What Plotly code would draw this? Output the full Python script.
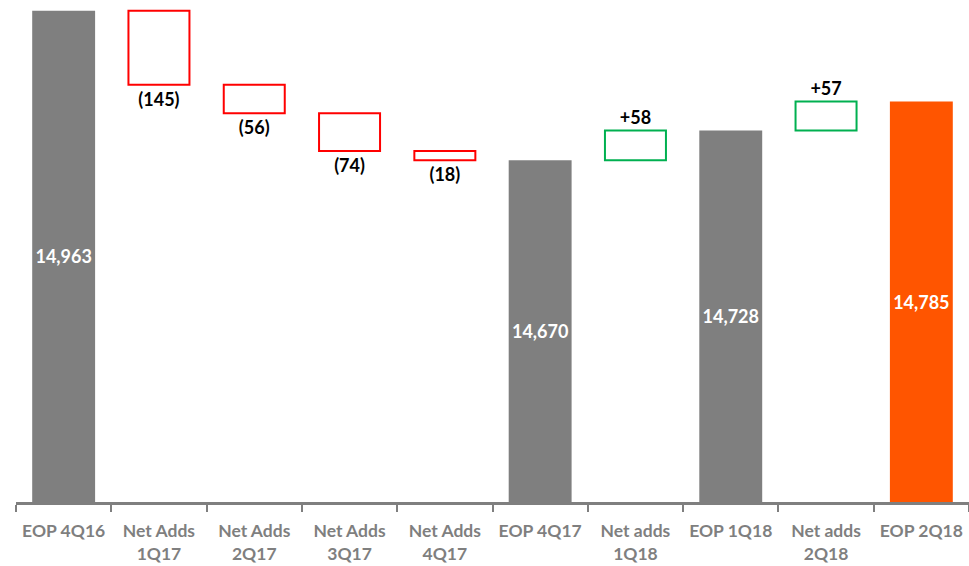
import plotly.graph_objects as go

# Subscriber bridge (thousands)
categories = ["EOP 4Q16", "Net Adds<br>1Q17", "Net Adds<br>2Q17", "Net Adds<br>3Q17",
              "Net Adds<br>4Q17", "EOP 4Q17", "Net adds<br>1Q18", "EOP 1Q18",
              "Net adds<br>2Q18", "EOP 2Q18"]
kinds = ["total", "delta", "delta", "delta", "delta", "total", "delta", "total", "delta", "total"]
values = [14963, -145, -56, -74, -18, 14670, 58, 14728, 57, 14785]
axis_floor = 14000

GRAY = "#7F7F7F"
RED = "#FF0000"
GREEN = "#00B050"
ORANGE = "#FF5500"
FONT = "Lato"

fig = go.Figure()

running = 0
tot_x, tot_y, tot_c, tot_t = [], [], [], []
d_x, d_y, d_b, d_c, d_t = [], [], [], [], []
for i, (cat, kind, v) in enumerate(zip(categories, kinds, values)):
    if kind == "total":
        running = v
        tot_x.append(cat)
        tot_y.append(v - axis_floor)
        tot_c.append(ORANGE if i == len(categories) - 1 else GRAY)
        tot_t.append(f"{v:,}")
    else:
        d_x.append(cat)
        d_y.append(v)
        d_b.append(running)
        d_c.append(RED if v < 0 else GREEN)
        d_t.append(f"({abs(v)})" if v < 0 else f"+{v}")
        running += v

fig.add_trace(go.Bar(
    x=tot_x, y=tot_y, base=axis_floor, width=0.66,
    marker=dict(color=tot_c, line=dict(width=0)),
    text=tot_t, textposition="inside", insidetextanchor="middle", textangle=0,
    textfont=dict(family=FONT, size=18, color="white", weight="bold"),
    constraintext="none", hoverinfo="skip", showlegend=False,
))

fig.add_trace(go.Bar(
    x=d_x, y=d_y, base=d_b, width=0.64,
    marker=dict(color="white", line=dict(color=d_c, width=2)),
    text=d_t, textposition="outside", textangle=0,
    textfont=dict(family=FONT, size=18, color="black", weight="bold"),
    constraintext="none", cliponaxis=False, hoverinfo="skip", showlegend=False,
))

fig.update_layout(
    width=969, height=566,
    margin=dict(l=16, r=0, t=0, b=64, autoexpand=False),
    paper_bgcolor="white", plot_bgcolor="white",
    barmode="overlay", bargap=0.34,
    xaxis=dict(
        type="category", categoryorder="array", categoryarray=categories,
        showline=True, linecolor=GRAY, linewidth=3,
        ticks="outside", tickson="boundaries", ticklen=7, tickwidth=2, tickcolor=GRAY,
        tickfont=dict(family=FONT, size=17.5, color=GRAY, weight="bold"),
        tickangle=0, ticklabelstandoff=11, automargin=False,
        showgrid=False, zeroline=False,
    ),
    yaxis=dict(range=[axis_floor, 14984], visible=False, showgrid=False, zeroline=False),
)

fig.write_html("out.html")
